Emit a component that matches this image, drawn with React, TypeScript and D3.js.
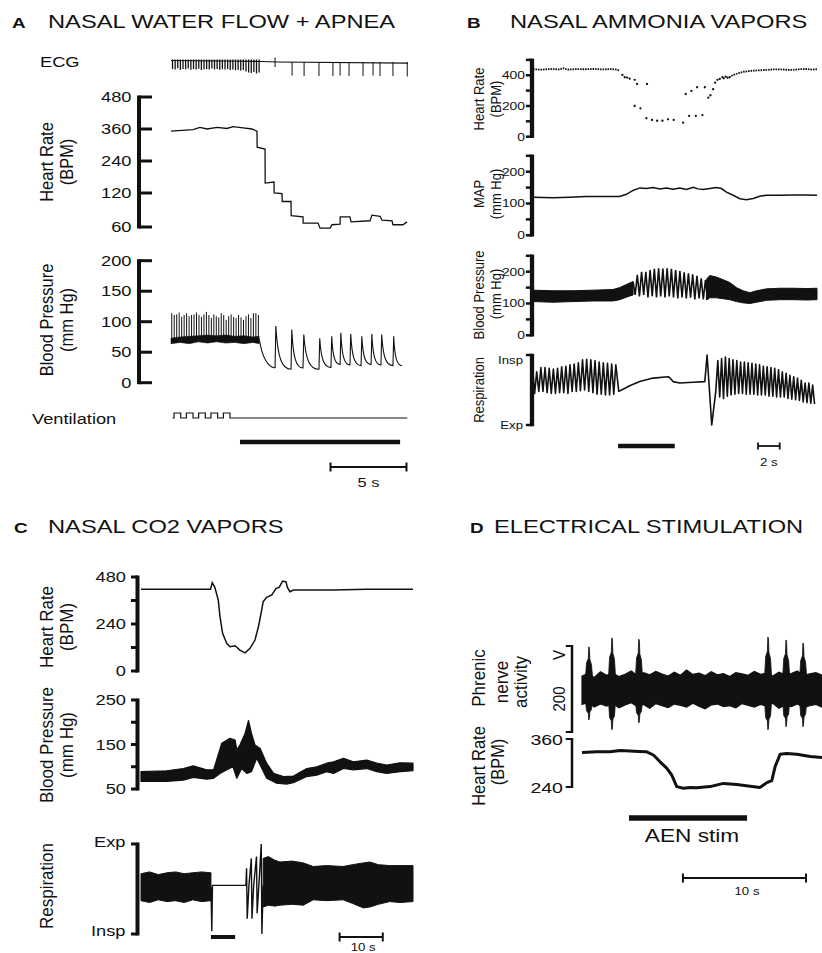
import React from 'react';
import * as d3 from 'd3';

type P2 = [number, number];
type P3 = [number, number, number];

// text in the source figure is stretched horizontally
const SX = 1.26;
const SXR = 1.12; // rotated labels get a milder stretch
const FONT = "'Liberation Sans', Arial, Helvetica, sans-serif";
const INK = '#111';

// ---------- A: nasal water flow + apnea (time in s) ----------
const ecgBaseline: P2[] = [[0, 0.15], [5.9, 0.05], [7.0, 0], [15.6, -0.12]];
const ecgDenseDepth = [0.7, 0.75, 0.62, 0.8, 0.7, 0.72, 0.66, 0.78, 0.7, 0.74, 0.68, 0.8, 0.72, 0.7, 0.76, 0.66, 0.74,
  0.7, 0.78, 0.72, 0.75, 0.7, 0.8, 0.74, 0.82, 0.78, 0.85, 0.8, 0.95, 1.05, 1.1, 1.0, 1.15, 1.05];
const ecgEctopic = { t: 6.85, top: 0.45, bot: -0.5 };
const ecgBeatT = [7.97, 8.76, 9.74, 10.66, 11.13, 11.72, 12.64, 13.3, 13.76, 14.61, 15.55];
const ecgBeatDepth = [1.35, 1.4, 1.4, 1.4, 1.35, 1.4, 1.4, 1.35, 1.4, 1.4, 1.45];

const hrATicks = [60, 120, 240, 360, 480];
const hrA: P2[] = [[0, 352], [1.45, 358], [1.91, 366], [2.37, 360], [3.03, 366], [3.69, 362], [4.08, 369], [4.74, 364],
  [5.33, 360], [5.66, 352], [5.67, 292], [6.19, 285], [6.2, 157], [6.78, 161], [6.79, 120], [7.31, 119], [7.32, 105],
  [7.9, 105], [7.91, 80], [8.69, 78], [8.7, 67], [9.68, 67], [9.81, 58], [10.47, 58], [10.6, 64], [11.13, 65],
  [11.14, 78], [11.78, 78], [11.85, 69], [13.1, 71], [13.23, 81], [13.76, 79], [13.89, 72], [14.55, 71], [14.61, 64],
  [15.27, 64], [15.54, 69]];

const bpATicks = [0, 50, 100, 150, 200];
const bpADenseTops = [114, 111, 112, 115, 108, 111, 114, 109, 111, 112, 115, 111, 108, 112, 116, 111, 106, 112, 109,
  107, 114, 111, 103, 109, 112, 108, 106, 111, 107, 103, 109, 112, 106, 114, 114, 111];
const bpABand: P3[] = [[0, 64, 73], [0.6, 66, 75], [1.2, 64, 76], [1.8, 67, 77], [2.4, 65, 78], [3, 67, 77],
  [3.6, 65, 78], [4.2, 66, 76], [4.8, 64, 77], [5.4, 66, 75], [5.8, 64, 76]];
const bpAFall: P2[] = [[5.8, 72], [6.0, 50], [6.25, 36], [6.5, 28], [6.85, 24]];
const bpABeatT = [6.85, 7.9, 8.69, 9.74, 10.53, 11.13, 11.78, 12.51, 13.17, 13.82, 14.61];
const bpAPeak = [93, 87, 79, 73, 76, 82, 80, 76, 80, 79, 76];
const bpATrough = [24, 22, 24, 22, 25, 30, 29, 28, 30, 29, 28];
const bpAEnd: P2 = [15.2, 28];

const ventPulses: P2[] = [[0.2, 0.64], [1.01, 1.45], [1.82, 2.26], [2.63, 3.07], [3.45, 3.88]];
const ventSpan: P2 = [0.1, 15.55];
const apneaBar: P2 = [4.54, 15.08];
const scaleBarA: P2 = [10.5, 15.5];

// ---------- B: nasal ammonia vapors ----------
const hrBTicks = [0, 100, 200, 300, 400, 500];
const hrBDense1: P2[] = [[0, 440], [0.8, 436], [1.6, 441], [2.4, 438], [2.8, 446], [3.2, 437], [4, 440], [4.8, 439],
  [5.6, 441], [6.4, 438], [7.2, 440], [7.7, 437], [8.0, 430]];
const hrBDots: P2[] = [[8.25, 402], [8.46, 387], [8.68, 385], [8.92, 378], [9.38, 370], [9.6, 343], [10.52, 343],
  [9.38, 200], [9.91, 185], [10.46, 120], [10.98, 109], [11.45, 104], [11.94, 104], [12.46, 113], [12.98, 109],
  [13.85, 91], [14.4, 135], [15.02, 135], [15.63, 141], [14.09, 278], [14.62, 298], [15.14, 322], [15.85, 322],
  [16.18, 254], [16.37, 270], [16.62, 309], [16.8, 352], [17.02, 370], [17.23, 376], [17.48, 387], [17.6, 380],
  [17.78, 391], [17.95, 384], [18.15, 387]];
const hrBDense2: P2[] = [[18.3, 395], [18.46, 402], [18.92, 413], [19.54, 424], [20.31, 430], [21.54, 435],
  [22.2, 438], [22.77, 439], [23.4, 436], [24, 435], [24.6, 440], [25.23, 441], [25.7, 437], [26.2, 439]];

const pressTicks = [0, 50, 100, 150, 200, 250];
const mapB: P2[] = [[0, 120], [1.85, 118], [3.38, 120], [4.92, 122], [6.46, 122], [8, 122], [8.62, 129], [9.23, 141],
  [9.85, 149], [10.46, 147], [11.08, 150], [11.69, 146], [12.31, 149], [12.92, 145], [13.54, 149], [14.15, 144],
  [14.77, 151], [15.23, 146], [15.69, 144], [16.31, 147], [16.92, 150], [17.38, 147], [17.85, 136], [18.46, 126],
  [19.08, 115], [19.69, 112], [20.31, 116], [20.92, 123], [21.54, 126], [22.77, 126], [24, 127], [25.23, 127],
  [26.2, 126]];

const bpBBand1: P3[] = [[0, 106, 142], [1.85, 104, 140], [3.69, 106, 140], [5.54, 108, 142], [7.38, 108, 144],
  [8.0, 112, 150], [8.62, 120, 160], [9.23, 127, 169]];
const bpBPeaks = [169, 190, 200, 200, 205, 209, 211, 210, 211, 209, 205, 202, 198, 195, 192, 187, 179, 174];
const bpBTroughs = [127, 122, 127, 119, 123, 119, 122, 119, 122, 119, 116, 119, 116, 118, 113, 116, 113, 111];
const bpBOscSpan: P2 = [9.23, 15.91];
const bpBBand2: P3[] = [[16.0, 112, 176], [16.31, 118, 188], [16.92, 118, 183], [17.54, 115, 175], [18.15, 112, 166],
  [18.77, 106, 150], [19.38, 102, 140], [20.0, 100, 134], [20.62, 104, 140], [21.54, 110, 146], [22.77, 112, 148],
  [24.0, 112, 148], [25.23, 111, 147], [26.2, 112, 148]];

const respBLeftPeaks = [76, 82, 82, 81, 80, 81, 83, 84, 86, 87, 89, 93, 94, 93, 92, 90, 89, 88, 87, 86];
const respBLeftTroughs = [45, 48, 48, 46, 45, 45, 46, 46, 45, 48, 48, 49, 50, 48, 46, 44, 44, 43, 43, 44];
const respBLeftSpan: P2 = [0.15, 7.45];
const respBMid: P2[] = [[7.91, 48], [8.31, 51], [8.92, 56], [9.85, 62], [11.08, 67], [12.46, 69], [12.6, 68],
  [12.92, 62], [13.54, 60], [14.77, 61], [15.85, 62], [16.06, 100], [16.49, 0], [16.86, 48]];
const respBRightPeaks = [92, 95, 97, 95, 93, 92, 90, 90, 89, 88, 87, 86, 84, 83, 82, 81, 79, 76, 74, 71, 69, 67, 64,
  60, 60, 57];
const respBRightTroughs = [40, 38, 41, 43, 44, 45, 45, 44, 44, 44, 43, 43, 43, 41, 41, 40, 40, 40, 38, 37, 36, 35,
  33, 32, 31, 30];
const respBRightSpan: P2 = [17.05, 25.8];
const stimBarB: P2 = [7.85, 13.08];
const scaleBarB: P2 = [20.76, 22.76];

// ---------- C: nasal CO2 vapors ----------
const hrCTicks = [0, 120, 240, 360, 480];
const hrC: P2[] = [[0, 417], [16.1, 417], [16.5, 451], [17.1, 427], [17.9, 362], [18.3, 277], [18.9, 192],
  [19.85, 141], [20.6, 124], [21.8, 129], [22.9, 107], [24.1, 93], [25.25, 116], [26.4, 158], [27.2, 226],
  [27.95, 311], [28.3, 354], [29.1, 376], [30.3, 388], [31.3, 422], [32.0, 427], [32.8, 459], [33.6, 455],
  [33.9, 427], [34.5, 405], [35.3, 413], [44.6, 413], [52.3, 417], [63, 417]];

const bpCTicks = [50, 100, 150, 200, 250];
const bpCUpper: P2[] = [[0, 89], [5.9, 91], [9.8, 96], [12.1, 102], [15.2, 93], [16.8, 93], [17.5, 115], [18.7, 153],
  [20.6, 164], [21.8, 160], [22.2, 138], [22.9, 149], [24.1, 175], [24.9, 204], [25.6, 175], [26.4, 149],
  [27.6, 141], [29.1, 108], [30.7, 85], [33, 78], [35.3, 79], [38.4, 96], [40.7, 100], [43, 108], [44.6, 111],
  [46.9, 119], [49.2, 111], [52.3, 115], [54.6, 108], [56.9, 104], [60, 109], [63, 108]];
const bpCLower: P2[] = [[0, 67], [5.9, 67], [9.8, 70], [12.1, 76], [15.2, 72], [16.8, 74], [18.3, 85], [19.8, 93],
  [21.3, 100], [22.2, 74], [23.3, 96], [24.5, 85], [25.6, 89], [26.8, 119], [27.6, 104], [29.1, 74], [31.4, 63],
  [33.7, 61], [35.3, 64], [38.4, 78], [40.7, 81], [43, 89], [44.6, 85], [46.9, 96], [49.2, 93], [52.3, 96],
  [54.6, 89], [56.9, 85], [60, 89], [63, 91]];

const respCLeft: P3[] = [[0, 37, 67], [2, 35, 69], [4, 38, 66], [6, 36, 68], [8, 37, 69], [10, 35, 67], [12, 38, 68],
  [14, 36, 69], [16.2, 37, 68]];
const respCApnea: P2[] = [[16.2, 52], [16.4, 3], [16.55, 54], [24.3, 54], [24.45, 73], [24.6, 17], [25.0, 54],
  [25.55, 84], [25.7, 17], [26.1, 54], [26.75, 86], [26.9, 23], [27.3, 54], [27.85, 100], [28.0, 0], [28.3, 54]];
const respCRight: P3[] = [[28.3, 30, 84], [29.5, 32, 86], [31, 31, 82], [32.2, 32, 80], [35, 33, 81], [37.6, 32, 79],
  [39.9, 38, 75], [43, 37, 76], [46.8, 38, 75], [49, 34, 77], [51.5, 29, 79], [53, 30, 80], [55, 33, 77],
  [57.6, 36, 76], [60, 35, 76], [63, 36, 76]];
const stimBarC: P2 = [16.2, 21.8];
const scaleBarC: P2 = [46, 56];

// ---------- D: electrical stimulation ----------
const PHR_DT = 0.5;
const phrUpper = [30, 36, 27, 40, 32, 37, 29, 34, 42, 31, 38, 33, 41, 35, 30, 39, 32, 44, 34, 37, 31, 40, 33, 36, 29,
  38, 35, 32, 41, 34, 37, 30, 39, 33, 36, 42, 31, 35, 38, 32];
const phrLower = [-36, -31, -42, -35, -40, -33, -44, -37, -32, -41, -36, -45, -34, -39, -43, -35, -38, -42, -33, -40,
  -46, -37, -35, -41, -39, -44, -34, -38, -42, -36, -40, -33, -45, -37, -41, -35, -43, -39, -36, -42];
const phrBurstT = [0.57, 2.44, 4.63, 15.12, 16.59, 17.97];
const phrBurstTop = [98, 119, 116, 121, 114, 107];
const phrBurstBot = [-72, -95, -79, -95, -88, -88];

const hrD: P2[] = [[0, 326], [1.2, 328], [2.28, 328], [3.1, 331], [3.9, 330], [4.6, 329], [5.26, 328], [5.8, 320],
  [6.34, 303], [6.88, 287], [7.29, 270], [7.7, 241], [8.24, 237], [8.8, 239], [9.32, 238], [10.4, 241],
  [11.49, 249], [12.58, 246], [13.66, 242], [14.47, 239], [15.02, 251], [15.42, 256], [15.69, 291], [16.1, 322],
  [16.64, 324], [17.45, 322], [18.54, 316], [19.5, 314]];
const stimBarD: P2 = [3.82, 13.41];
const scaleBarD: P2 = [8.2, 18.2];

// ---------- helpers ----------
// rotated labels: x is the visual centre of the capital letters, baseline sits to its right
const Txt = ({ x, y, size, anchor = 'start', bold = false, rot = false, children }: {
  x: number; y: number; size: number; anchor?: string; bold?: boolean; rot?: boolean; children: React.ReactNode;
}) => {
  const tx = rot ? x + 0.358 * size * SXR : x;
  return (
    <text transform={`translate(${tx},${y}) scale(${rot ? SXR : SX},1)${rot ? ' rotate(-90)' : ''}`}
      fontSize={size} fontFamily={FONT} fontWeight={bold ? 700 : 400} textAnchor={rot ? 'middle' : anchor}
      fill={INK}>{children}</text>
  );
};

type Scale = d3.ScaleLinear<number, number>;

const VAxis = ({ x, y, ticks, labels = [], dir = -1, len = 6, lw = 4, tw = 2.5, font = 14, lx = 0 }: {
  x: number; y: Scale; ticks: number[]; labels?: [number, string][]; dir?: number; len?: number; lw?: number;
  tw?: number; font?: number; lx?: number;
}) => {
  const ys = ticks.map(t => y(t));
  const top = Math.min(...ys), bot = Math.max(...ys);
  return (
    <g>
      <line x1={x} x2={x} y1={top - tw / 2} y2={bot + tw / 2} stroke={INK} strokeWidth={lw} />
      {ticks.map(t => <line key={t} x1={x} x2={x + dir * (lw / 2 + len)} y1={y(t)} y2={y(t)} stroke={INK}
        strokeWidth={tw} />)}
      {labels.map(([v, s]) => <Txt key={s} x={lx} y={y(v) + font * 0.36} size={font} anchor="end">{s}</Txt>)}
    </g>
  );
};

const ScaleBar = ({ x, span, y, h, w = 2 }: { x: Scale; span: P2; y: number; h: number; w?: number }) => (
  <g stroke={INK} strokeWidth={w}>
    <line x1={x(span[0])} x2={x(span[1])} y1={y} y2={y} />
    <line x1={x(span[0])} x2={x(span[0])} y1={y - h} y2={y + h} />
    <line x1={x(span[1])} x2={x(span[1])} y1={y - h} y2={y + h} />
  </g>
);

const Bar = ({ x, span, y, w }: { x: Scale; span: P2; y: number; w: number }) => (
  <line x1={x(span[0])} x2={x(span[1])} y1={y} y2={y} stroke={INK} strokeWidth={w} />
);

const lineOf = (x: Scale, y: Scale, curve: d3.CurveFactory = d3.curveLinear) =>
  d3.line<P2>().x(d => x(d[0])).y(d => y(d[1])).curve(curve);
const bandOf = (x: Scale, y: Scale) =>
  d3.area<P3>().x(d => x(d[0])).y0(d => y(d[1])).y1(d => y(d[2]));

// alternating trough/peak zigzag from listed cycle values
const zigzag = (peaks: number[], troughs: number[], span: P2, troughFirst: boolean): P2[] => {
  const tt = d3.scaleLinear().domain([0, peaks.length - 1]).range(span);
  const half = (span[1] - span[0]) / (peaks.length - 1) / 2;
  const pts: P2[] = [];
  peaks.forEach((p, i) => {
    if (troughFirst) { pts.push([tt(i), troughs[i]]); pts.push([tt(i) + half, p]); }
    else { pts.push([tt(i), p]); pts.push([tt(i) + half, troughs[i]]); }
  });
  return pts;
};

// ---------- panels ----------
const PanelA = () => {
  const x = d3.scaleLinear().domain([0, 15.6]).range([171, 408]);
  const ecgY = d3.scaleLinear().domain([-1.5, 0.5]).range([77, 57]);
  const hrY = d3.scaleLinear().domain(hrATicks).range([227, 193, 161, 129, 97]);
  const bpY = d3.scaleLinear().domain([0, 200]).range([382.7, 260.7]);
  const ventY = d3.scaleLinear().domain([0, 1]).range([418, 413]);
  const ecgT = d3.scaleLinear().domain([0, ecgDenseDepth.length - 1]).range([0.1, 5.8]);
  const bpT = d3.scaleLinear().domain([0, bpADenseTops.length - 1]).range([0.05, 5.75]);

  let beats = '';
  bpABeatT.forEach((t, i) => {
    const last = i === bpABeatT.length - 1;
    const x0 = x(t), y0 = bpY(bpATrough[i]);
    const xp = x(t + 0.05), yp = bpY(bpAPeak[i]);
    const xn = x(last ? bpAEnd[0] : bpABeatT[i + 1]);
    const yn = bpY(last ? bpAEnd[1] : bpATrough[i + 1]);
    beats += `${i === 0 ? 'M' : 'L'}${x0},${y0}L${xp},${yp}C${xp + (xn - xp) * 0.12},${yp + (yn - yp) * 0.75} ` +
      `${xp + (xn - xp) * 0.4},${yn} ${xn},${yn}`;
  });

  const vent: P2[] = [[ventSpan[0], 0]];
  ventPulses.forEach(([s, e]) => vent.push([s, 0], [s, 1], [e, 1], [e, 0]));
  vent.push([ventSpan[1], 0]);

  return (
    <g>
      <Txt x={12} y={28} size={15} bold>A</Txt>
      <Txt x={48} y={28} size={18.8}>NASAL WATER FLOW + APNEA</Txt>
      <Txt x={40} y={67} size={14.5}>ECG</Txt>
      <path d={lineOf(x, ecgY)(ecgBaseline) ?? ''} fill="none" stroke={INK} strokeWidth={1.2} />
      {ecgDenseDepth.map((d, i) => <line key={i} x1={x(ecgT(i))} x2={x(ecgT(i))} y1={ecgY(0.25)} y2={ecgY(-d)}
        stroke={INK} strokeWidth={1.3} />)}
      <line x1={x(ecgEctopic.t)} x2={x(ecgEctopic.t)} y1={ecgY(ecgEctopic.top)} y2={ecgY(ecgEctopic.bot)}
        stroke={INK} strokeWidth={1} />
      {ecgBeatT.map((t, i) => <line key={t} x1={x(t)} x2={x(t)} y1={ecgY(0)} y2={ecgY(-ecgBeatDepth[i])}
        stroke={INK} strokeWidth={1} />)}

      <VAxis x={139} y={hrY} ticks={hrATicks} dir={1} len={11} lw={4} tw={3} font={14.5} lx={131.5}
        labels={hrATicks.map(v => [v, String(v)] as [number, string])} />
      <Txt x={46} y={162} size={16.5} rot>Heart Rate</Txt>
      <Txt x={66} y={162} size={16.5} rot>(BPM)</Txt>
      <path d={lineOf(x, hrY)(hrA) ?? ''} fill="none" stroke={INK} strokeWidth={1.3} />

      <VAxis x={139} y={bpY} ticks={bpATicks} dir={1} len={11} lw={4} tw={3} font={14.5} lx={131.5}
        labels={bpATicks.map(v => [v, String(v)] as [number, string])} />
      <Txt x={46} y={320} size={16.5} rot>Blood Pressure</Txt>
      <Txt x={66} y={320} size={16.5} rot>(mm Hg)</Txt>
      <path d={bandOf(x, bpY)(bpABand) ?? ''} fill={INK} stroke={INK} strokeWidth={0.6} />
      {bpADenseTops.map((v, i) => <line key={i} x1={x(bpT(i))} x2={x(bpT(i))} y1={bpY(68)} y2={bpY(v)}
        stroke={INK} strokeWidth={1} />)}
      <path d={lineOf(x, bpY, d3.curveMonotoneX)(bpAFall) ?? ''} fill="none" stroke={INK} strokeWidth={1.1} />
      <path d={beats} fill="none" stroke={INK} strokeWidth={1.1} />

      <Txt x={32} y={424} size={14.5}>Ventilation</Txt>
      <path d={lineOf(x, ventY)(vent) ?? ''} fill="none" stroke={INK} strokeWidth={1.2} />
      <Bar x={x} span={apneaBar} y={442} w={4.6} />
      <ScaleBar x={x} span={scaleBarA} y={467} h={4.5} w={2} />
      <Txt x={x((scaleBarA[0] + scaleBarA[1]) / 2)} y={487} size={13} anchor="middle">5 s</Txt>
    </g>
  );
};

const PanelB = () => {
  const x = d3.scaleLinear().domain([0, 26.2]).range([533, 817]);
  const hrY = d3.scaleLinear().domain([0, 500]).range([136.7, 59.9]);
  const mapY = d3.scaleLinear().domain([0, 250]).range([235.3, 155.8]);
  const bpY = d3.scaleLinear().domain([0, 250]).range([335.3, 255.8]);
  const respY = d3.scaleLinear().domain([0, 100]).range([425, 355]);
  const ax = 532;
  const lbl = (vals: number[]) => vals.map(v => [v, String(v)] as [number, string]);

  const osc = zigzag(bpBPeaks, bpBTroughs, bpBOscSpan, false);
  const respLeft: P2[] = [[0, 74], ...zigzag(respBLeftPeaks, respBLeftTroughs, respBLeftSpan, true)];
  const respRight = zigzag(respBRightPeaks, respBRightTroughs, respBRightSpan, false);
  const resp = [...respLeft, ...respBMid, ...respRight];

  return (
    <g>
      <Txt x={467} y={28} size={15} bold>B</Txt>
      <Txt x={510} y={28} size={18.8}>NASAL AMMONIA VAPORS</Txt>

      <VAxis x={ax} y={hrY} ticks={hrBTicks} lw={4.3} tw={2.5} len={4} font={11} lx={525}
        labels={lbl([0, 200, 400])} />
      <Txt x={479} y={99} size={13} rot>Heart Rate</Txt>
      <Txt x={496} y={99} size={13} rot>(BPM)</Txt>
      <path d={lineOf(x, hrY)(hrBDense1) ?? ''} fill="none" stroke={INK} strokeWidth={1.8}
        strokeDasharray="1.6 0.9" />
      {hrBDots.map((d, i) => <circle key={i} cx={x(d[0])} cy={hrY(d[1])} r={1.15} fill={INK} />)}
      <path d={lineOf(x, hrY)(hrBDense2) ?? ''} fill="none" stroke={INK} strokeWidth={1.8}
        strokeDasharray="1.6 0.9" />

      <VAxis x={ax} y={mapY} ticks={pressTicks} lw={4.3} tw={2.5} len={4} font={11} lx={525}
        labels={lbl([0, 100, 200])} />
      <Txt x={479} y={194} size={13} rot>MAP</Txt>
      <Txt x={496} y={194} size={13} rot>(mm Hg)</Txt>
      <path d={lineOf(x, mapY)(mapB) ?? ''} fill="none" stroke={INK} strokeWidth={1.5} />

      <VAxis x={ax} y={bpY} ticks={pressTicks} lw={4.3} tw={2.5} len={4} font={11} lx={525}
        labels={lbl([0, 100, 200])} />
      <Txt x={479} y={295} size={13} rot>Blood Pressure</Txt>
      <Txt x={496} y={294} size={13} rot>(mm Hg)</Txt>
      <path d={bandOf(x, bpY)(bpBBand1) ?? ''} fill={INK} stroke={INK} strokeWidth={1} />
      <path d={lineOf(x, bpY)(osc) ?? ''} fill="none" stroke={INK} strokeWidth={1.6} />
      <path d={bandOf(x, bpY)(bpBBand2) ?? ''} fill={INK} stroke={INK} strokeWidth={1} />

      <VAxis x={ax} y={respY} ticks={[0, 100]} lw={4.3} tw={2.5} len={4} />
      <Txt x={523} y={364} size={10.5} anchor="end">Insp</Txt>
      <Txt x={523} y={428.5} size={10.5} anchor="end">Exp</Txt>
      <Txt x={479} y={390} size={13} rot>Respiration</Txt>
      <path d={lineOf(x, respY)(resp) ?? ''} fill="none" stroke={INK} strokeWidth={1.6} strokeLinejoin="round" />

      <Bar x={x} span={stimBarB} y={446} w={4.3} />
      <ScaleBar x={x} span={scaleBarB} y={446} h={3.5} w={1.8} />
      <Txt x={x((scaleBarB[0] + scaleBarB[1]) / 2)} y={466} size={10.5} anchor="middle">2 s</Txt>
    </g>
  );
};

const PanelC = () => {
  const x = d3.scaleLinear().domain([0, 63]).range([141, 413]);
  const hrY = d3.scaleLinear().domain([0, 480]).range([671, 577]);
  const bpY = d3.scaleLinear().domain([50, 250]).range([789, 700]);
  const respY = d3.scaleLinear().domain([0, 100]).range([934, 844]);
  const ax = 137.5;
  // band between listed upper and lower envelopes (independent time samples)
  const upperPath = lineOf(x, bpY)(bpCUpper) ?? '';
  const lowerPath = lineOf(x, bpY)([...bpCLower].reverse()) ?? '';
  const bandPath = upperPath + 'L' + lowerPath.slice(1) + 'Z';

  return (
    <g>
      <Txt x={14} y={533} size={15} bold>C</Txt>
      <Txt x={48} y={533} size={18.8}>NASAL CO2 VAPORS</Txt>

      <VAxis x={ax} y={hrY} ticks={hrCTicks} lw={4} tw={3} len={4.5} font={14.5} lx={126}
        labels={[[0, '0'], [240, '240'], [480, '480']]} />
      <Txt x={46} y={627} size={17} rot>Heart Rate</Txt>
      <Txt x={66} y={627} size={17} rot>(BPM)</Txt>
      <path d={lineOf(x, hrY)(hrC) ?? ''} fill="none" stroke={INK} strokeWidth={1.5} />

      <VAxis x={ax} y={bpY} ticks={bpCTicks} lw={4} tw={3} len={4.5} font={14.5} lx={126}
        labels={[[50, '50'], [150, '150'], [250, '250']]} />
      <Txt x={46} y={745} size={17} rot>Blood Pressure</Txt>
      <Txt x={66} y={745} size={17} rot>(mm Hg)</Txt>
      <path d={bandPath} fill={INK} stroke={INK} strokeWidth={1.2} strokeLinejoin="round" />

      <VAxis x={ax} y={respY} ticks={[0, 100]} lw={4} tw={3} len={4.5} />
      <Txt x={125.5} y={847} size={14.5} anchor="end">Exp</Txt>
      <Txt x={125.5} y={936} size={14.5} anchor="end">Insp</Txt>
      <Txt x={46} y={886} size={17} rot>Respiration</Txt>
      <path d={bandOf(x, respY)(respCLeft) ?? ''} fill={INK} stroke={INK} strokeWidth={1} />
      <path d={lineOf(x, respY)(respCApnea) ?? ''} fill="none" stroke={INK} strokeWidth={1.4} />
      <path d={bandOf(x, respY)(respCRight) ?? ''} fill={INK} stroke={INK} strokeWidth={1} />

      <Bar x={x} span={stimBarC} y={937} w={4} />
      <ScaleBar x={x} span={scaleBarC} y={937} h={4.5} w={2} />
      <Txt x={x((scaleBarC[0] + scaleBarC[1]) / 2) + 2} y={951} size={10.5} anchor="middle">10 s</Txt>
    </g>
  );
};

const PanelD = () => {
  const x = d3.scaleLinear().domain([0, 19.5]).range([582, 822]);
  const phrY = d3.scaleLinear().domain([-100, 100]).range([732, 646]);
  const hrY = d3.scaleLinear().domain([240, 360]).range([787, 739]);
  const ax = 572;
  const env: P3[] = phrUpper.map((u, i) => [i * PHR_DT, phrLower[i], u]);
  const bursts: P3[][] = phrBurstT.map((t, i) => {
    const top = phrBurstTop[i], bot = phrBurstBot[i];
    return [[t - 0.28, -30, 30], [t - 0.2, bot * 0.7, top * 0.62], [t - 0.06, bot * 0.78, top * 0.72],
      [t - 0.02, bot, top], [t + 0.03, bot * 0.96, top * 0.97], [t + 0.07, bot * 0.74, top * 0.7],
      [t + 0.2, bot * 0.66, top * 0.58], [t + 0.28, -30, 30]];
  });

  return (
    <g>
      <Txt x={470} y={533} size={15} bold>D</Txt>
      <Txt x={494} y={533} size={18.8}>ELECTRICAL STIMULATION</Txt>

      <VAxis x={ax} y={phrY} ticks={[-100, 100]} lw={2.5} tw={2} len={5} />
      <Txt x={478} y={678} size={17} rot>Phrenic</Txt>
      <Txt x={501} y={682} size={17} rot>nerve</Txt>
      <Txt x={520} y={682} size={17} rot>activity</Txt>
      <Txt x={558.5} y={699} size={15} rot>200</Txt>
      <Txt x={558.5} y={655} size={15} rot>V</Txt>
      <path d={bandOf(x, phrY)(env) ?? ''} fill={INK} stroke={INK} strokeWidth={1.2} strokeLinejoin="miter" />
      {bursts.map((b, i) => <path key={i} d={bandOf(x, phrY)(b) ?? ''} fill={INK} stroke={INK} strokeWidth={0.8} />)}

      <VAxis x={ax} y={hrY} ticks={[240, 360]} lw={2.5} tw={2} len={5} font={15.5} lx={563}
        labels={[[240, '240'], [360, '360']]} />
      <Txt x={478} y={766} size={16.5} rot>Heart Rate</Txt>
      <Txt x={497} y={762} size={16.5} rot>(BPM)</Txt>
      <path d={lineOf(x, hrY)(hrD) ?? ''} fill="none" stroke={INK} strokeWidth={3} strokeLinejoin="round" />

      <Bar x={x} span={stimBarD} y={818} w={5.5} />
      <Txt x={692} y={842} size={18} anchor="middle">AEN stim</Txt>
      <ScaleBar x={x} span={scaleBarD} y={878} h={4.5} w={2} />
      <Txt x={747} y={895} size={10.5} anchor="middle">10 s</Txt>
    </g>
  );
};

export default function App() {
  return (
    <svg width={822} height={953} viewBox="0 0 822 953"
      style={{ position: 'absolute', left: 0, top: 0, background: '#fff' }}>
      <PanelA />
      <PanelB />
      <PanelC />
      <PanelD />
    </svg>
  );
}
